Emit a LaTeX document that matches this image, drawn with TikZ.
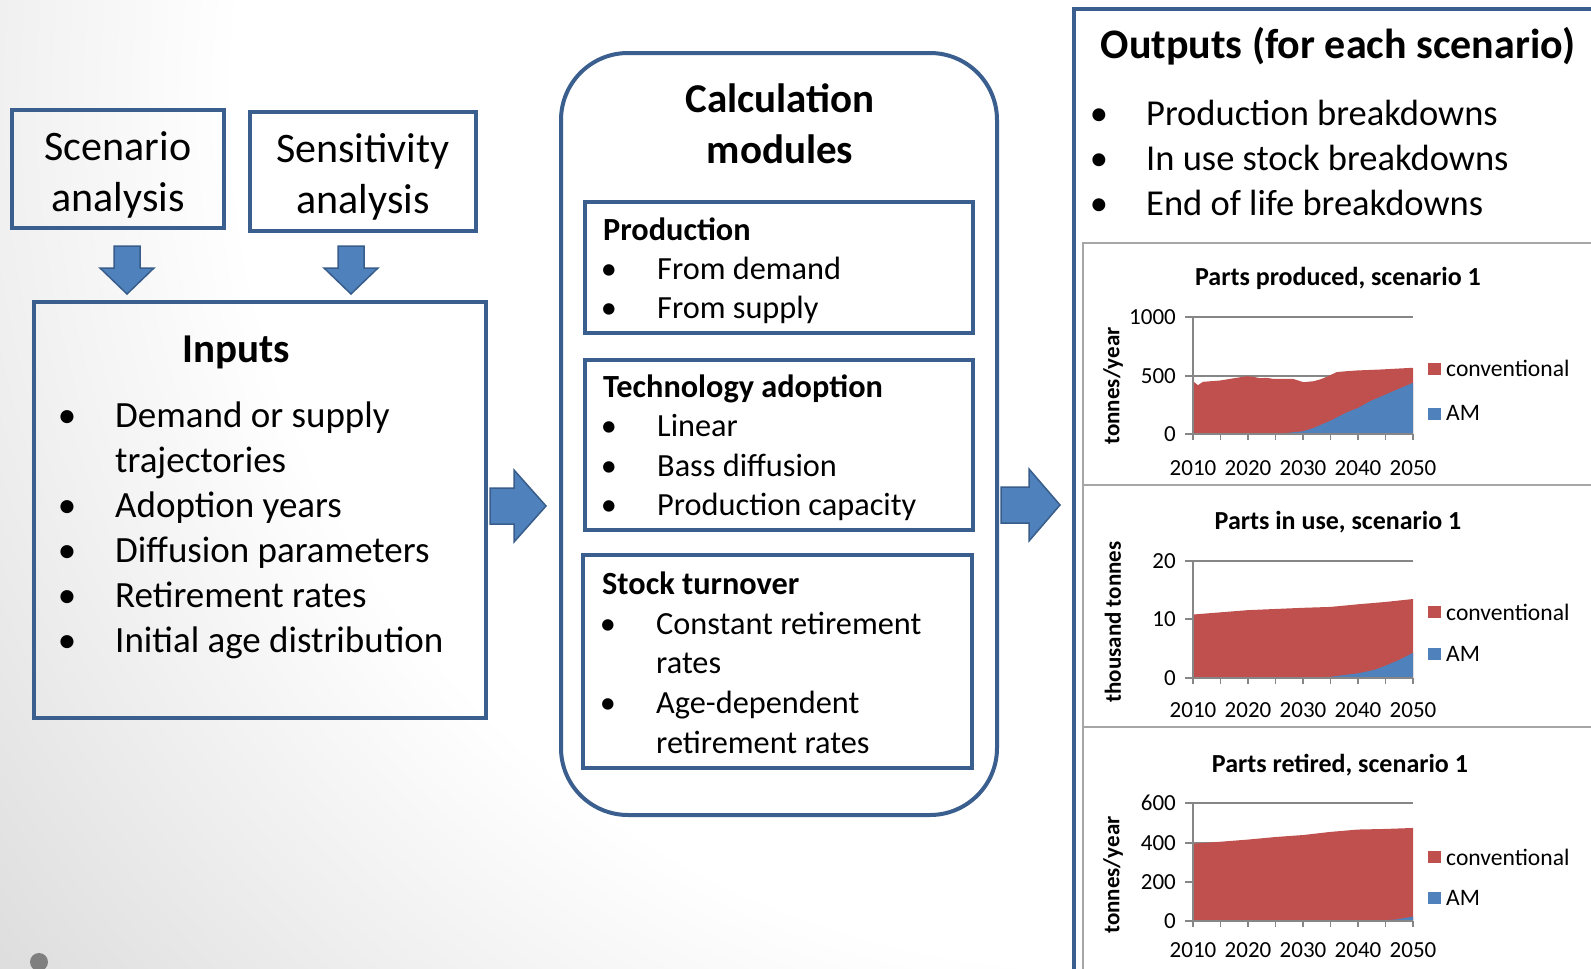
\documentclass[tikz,border=0pt]{standalone}
\usepackage{fontspec}
\setmainfont{Carlito}
\usetikzlibrary{calc}

\definecolor{boxblue}{HTML}{3A5F8F}
\definecolor{arrowfill}{HTML}{4F81BD}
\definecolor{arrowline}{HTML}{385D8A}
\definecolor{conv}{HTML}{C0504D}
\definecolor{amblue}{HTML}{4F81BD}
\definecolor{axisgray}{HTML}{868686}
\definecolor{panelgray}{HTML}{A6A6A6}
\definecolor{dotgray}{HTML}{7F7F7F}
\definecolor{bgmid}{RGB}{224,224,224}
\definecolor{bgdark}{RGB}{209,209,209}

% radial fill of the slide: the 50bp middle square maps onto the circle's box
\pgfdeclareradialshading{slidebg}{\pgfpoint{0bp}{0bp}}{color(0bp)=(white); color(13.5bp)=(white); color(21.25bp)=(bgmid); color(25bp)=(bgdark); color(50bp)=(bgdark)}

\newcommand{\fsz}[2]{\fontsize{#1}{#2}\selectfont}

\tikzset{
  bluebox/.style={draw=boxblue, line width=4pt, inner sep=0pt},
  blockarrow/.style={fill=arrowfill, draw=arrowline, line width=1.5pt, line join=miter},
  txt/.style={inner sep=0pt, anchor=base west},
  bul/.style={inner sep=0pt, anchor=base},
  big/.style={font=\fsz{37}{44}},
  mid/.style={font=\fsz{32.3}{39}},
  outtxt/.style={font=\fsz{36.5}{45}},
  boxtxt/.style={inner sep=0pt, align=center, font=\fsz{42}{51}},
  panel/.style={draw=panelgray, line width=2.5pt, fill=white, inner sep=0pt},
  gridline/.style={draw=axisgray, line width=1.3pt},
  axisline/.style={draw=axisgray, line width=1.5pt},
  charttitle/.style={inner sep=0pt, font=\fsz{26}{30}\bfseries},
  ticklab/.style={inner sep=0pt, font=\fsz{23}{27}},
  legtxt/.style={inner sep=0pt, anchor=west, font=\fsz{23.6}{28}},
  ylab/.style={inner sep=0pt, rotate=90, font=\fsz{23}{27}\bfseries}
}

\begin{document}
\begin{tikzpicture}[x=1pt,y=-1pt]
\useasboundingbox (0,0) rectangle (1591,969);

% slide background
\begin{scope}
  \clip (0,0) rectangle (1591,969);
  \shade[shading=slidebg] (1100,100) circle (1600pt);
\end{scope}
\fill[dotgray] (39,962) circle (9pt);

% ---------- analysis boxes ----------
\node[bluebox, minimum width=212pt, minimum height=118pt] (scen) at (118,169) {};
\node[boxtxt] (scentxt) at (118,175) {Scenario\\analysis};
\node[bluebox, minimum width=226pt, minimum height=119pt] (sens) at (363,171.5) {};
\node[boxtxt] (senstxt) at (363,176.5) {Sensitivity\\analysis};

% ---------- inputs ----------
\node[bluebox, minimum width=452pt, minimum height=416pt] (inputs) at (260,510) {};
\node[inner sep=0pt, anchor=base, font=\fsz{41}{49}\bfseries] (intitle) at (236,362) {Inputs};
\node[bul, big] (ib1) at (67,427) {•};
\node[txt, big] (it1) at (115,427) {Demand or supply};
\node[txt, big] (it1b) at (115,472) {trajectories};
\node[bul, big] (ib2) at (67,517) {•};
\node[txt, big] (it2) at (115,517) {Adoption years};
\node[bul, big] (ib3) at (67,562) {•};
\node[txt, big] (it3) at (115,562) {Diffusion parameters};
\node[bul, big] (ib4) at (67,607) {•};
\node[txt, big] (it4) at (115,607) {Retirement rates};
\node[bul, big] (ib5) at (67,652) {•};
\node[txt, big] (it5) at (115,652) {Initial age distribution};

% ---------- calculation modules ----------
\node[bluebox, rounded corners=67pt, minimum width=436pt, minimum height=762pt] (calc) at (779,434) {};
\node[inner sep=0pt, anchor=base, font=\fsz{41}{49}\bfseries] (calct1) at (780,112) {Calculation};
\node[inner sep=0pt, anchor=base, font=\fsz{41}{49}\bfseries] (calct2) at (780,163) {modules};

\node[bluebox, minimum width=388pt, minimum height=131pt] (prod) at (779,267.5) {};
\node[txt, font=\fsz{32.3}{39}\bfseries] (prodt) at (603,240) {Production};
\node[bul, mid] (pb1) at (609,279) {•};
\node[txt, mid] (pt1) at (657,279) {From demand};
\node[bul, mid] (pb2) at (609,318) {•};
\node[txt, mid] (pt2) at (657,318) {From supply};

\node[bluebox, minimum width=388pt, minimum height=170pt] (tech) at (779,445) {};
\node[txt, font=\fsz{32.3}{39}\bfseries] (techt) at (603,397) {Technology adoption};
\node[bul, mid] (tb1) at (609,436) {•};
\node[txt, mid] (tt1) at (657,436) {Linear};
\node[bul, mid] (tb2) at (609,476) {•};
\node[txt, mid] (tt2) at (657,476) {Bass diffusion};
\node[bul, mid] (tb3) at (609,515) {•};
\node[txt, mid] (tt3) at (657,515) {Production capacity};

\node[bluebox, minimum width=389pt, minimum height=213pt] (stock) at (777.5,661.5) {};
\node[txt, font=\fsz{32.3}{39}\bfseries] (stockt) at (602,594) {Stock turnover};
\node[bul, mid] (sb1) at (608,634) {•};
\node[txt, mid] (st1) at (656,634) {Constant retirement};
\node[txt, mid] (st1b) at (656,673) {rates};
\node[bul, mid] (sb2) at (608,713) {•};
\node[txt, mid] (st2) at (656,713) {Age-dependent};
\node[txt, mid] (st2b) at (656,753) {retirement rates};

% ---------- outputs ----------
\node[bluebox, fill=white, minimum width=626pt, minimum height=991pt] (outputs) at (1387,504.5) {};
\node[inner sep=0pt, anchor=base, font=\fsz{42}{50}\bfseries] (outt) at (1338,58) {Outputs (for each scenario)};
\node[bul, outtxt] (ob1) at (1099,125) {•};
\node[txt, outtxt] (ot1) at (1146,125) {Production breakdowns};
\node[bul, outtxt] (ob2) at (1099,170) {•};
\node[txt, outtxt] (ot2) at (1146,170) {In use stock breakdowns};
\node[bul, outtxt] (ob3) at (1099,215) {•};
\node[txt, outtxt] (ot3) at (1146,215) {End of life breakdowns};

\node[panel, minimum width=617pt, minimum height=242pt] (panel1) at (1391.5,364) {};
\node[panel, minimum width=617pt, minimum height=242pt] (panel2) at (1391.5,606) {};
\node[panel, minimum width=617pt, minimum height=273pt] (panel3) at (1391.5,863.5) {};

% ---------- block arrows ----------
\coordinate (da1) at ($(scen.south)+(9,16)$);
\coordinate (da2) at ($(sens.south)+(-12,13)$);
\coordinate (ra1) at ($(inputs.east)+(2,-4)$);
\coordinate (ra2) at ($(calc.east)+(2,71)$);
\draw[blockarrow] (da1) ++(-13,0) -- ++(26,0) -- ++(0,22) -- ++(14,0) -- ++(-27,26) -- ++(-27,-26) -- ++(14,0) -- cycle;
\draw[blockarrow] (da2) ++(-13,0) -- ++(26,0) -- ++(0,22) -- ++(14,0) -- ++(-27,26) -- ++(-27,-26) -- ++(14,0) -- cycle;
\draw[blockarrow] (ra1) ++(0,-18) -- ++(24,0) -- ++(0,-18) -- ++(32,36) -- ++(-32,36) -- ++(0,-18) -- ++(-24,0) -- cycle;
\draw[blockarrow] (ra2) ++(0,-18) -- ++(28,0) -- ++(0,-18) -- ++(31,36) -- ++(-31,36) -- ++(0,-18) -- ++(-28,0) -- cycle;

% ---------- chart 1: parts produced ----------
\node[charttitle] (c1t) at (1338,278) {Parts produced, scenario 1};
\draw[gridline] (1185,317) -- (1413,317);
\draw[gridline] (1185,376) -- (1413,376);
\begin{scope}[shift={(1193,434)}, x=5.5pt, y=0.117pt]
  \fill[conv] (0,0) -- (0,451) -- (0.9,417) -- (1.8,446) -- (4.9,457) -- (7.9,480) -- (9.7,494) -- (10.9,489) -- (12.2,477) -- (13.4,480) -- (14.6,471) -- (18.2,471) -- (19.5,451) -- (20.1,443) -- (21.9,451) -- (23.1,466) -- (24.6,494) -- (26.1,529) -- (28,537) -- (29.8,543) -- (34,551) -- (40,566) -- (40,0) -- cycle;
  \fill[amblue] (14,0) -- (17,9) -- (20,23) -- (21.9,51) -- (25,114) -- (28,186) -- (30,223) -- (32.2,280) -- (35,337) -- (37.1,380) -- (40,437) -- (40,0) -- cycle;
\end{scope}
\draw[axisline] (1193,317) -- (1193,434);
\draw[axisline] (1185,434) -- (1413,434);
\foreach \k in {0,...,8} \draw[axisline] (1193+27.5*\k,434) -- ++(0,6);
\foreach \v/\y in {0/434,500/376,1000/317} \node[ticklab, anchor=east] (c1y\v) at (1176,\y) {\v};
\foreach \yr [count=\i from 0] in {2010,2020,2030,2040,2050} \node[ticklab] (c1x\yr) at (1193+55*\i,468) {\yr};
\node[ylab] (c1yl) at (1113,386) {tonnes/year};
\fill[conv] (1428,363) rectangle ++(13,12);
\node[legtxt] (c1lc) at (1446,368) {conventional};
\fill[amblue] (1428,408) rectangle ++(13,12);
\node[legtxt] (c1la) at (1446,413) {AM};

% ---------- chart 2: parts in use ----------
\node[charttitle] (c2t) at (1338,522) {Parts in use, scenario 1};
\draw[gridline] (1185,561) -- (1413,561);
\draw[gridline] (1185,619) -- (1413,619);
\begin{scope}[shift={(1193,678)}, x=5.5pt, y=5.85pt]
  \fill[conv] (0,0) -- (0,10.85) -- (10,11.6) -- (20,12.0) -- (25,12.15) -- (30,12.6) -- (35,13.0) -- (40,13.5) -- (40,0) -- cycle;
  \fill[amblue] (19,0) -- (25,0.2) -- (30,0.8) -- (33,1.4) -- (35,2.1) -- (37.5,3.1) -- (40,4.3) -- (40,0) -- cycle;
\end{scope}
\draw[axisline] (1193,561) -- (1193,678);
\draw[axisline] (1185,678) -- (1413,678);
\foreach \k in {0,...,8} \draw[axisline] (1193+27.5*\k,678) -- ++(0,6);
\foreach \v/\y in {0/678,10/619,20/561} \node[ticklab, anchor=east] (c2y\v) at (1176,\y) {\v};
\foreach \yr [count=\i from 0] in {2010,2020,2030,2040,2050} \node[ticklab] (c2x\yr) at (1193+55*\i,710) {\yr};
\node[ylab] (c2yl) at (1113,622) {thousand tonnes};
\fill[conv] (1428,606) rectangle ++(13,12);
\node[legtxt] (c2lc) at (1446,612) {conventional};
\fill[amblue] (1428,648) rectangle ++(13,12);
\node[legtxt] (c2la) at (1446,654) {AM};

% ---------- chart 3: parts retired ----------
\node[charttitle] (c3t) at (1340,765) {Parts retired, scenario 1};
\draw[gridline] (1185,803) -- (1413,803);
\draw[gridline] (1185,843) -- (1413,843);
\draw[gridline] (1185,882) -- (1413,882);
\begin{scope}[shift={(1193,921)}, x=5.5pt, y=0.1967pt]
  \fill[conv] (0,0) -- (0,393) -- (5,403) -- (10,414) -- (15,427) -- (20,437) -- (25,453) -- (30,465) -- (35,468) -- (40,473) -- (40,0) -- cycle;
  \fill[amblue] (33,0) -- (37,8) -- (40,22) -- (40,0) -- cycle;
\end{scope}
\draw[axisline] (1193,803) -- (1193,921);
\draw[axisline] (1185,921) -- (1413,921);
\foreach \k in {0,...,8} \draw[axisline] (1193+27.5*\k,921) -- ++(0,6);
\foreach \v/\y in {0/921,200/882,400/843,600/803} \node[ticklab, anchor=east] (c3y\v) at (1176,\y) {\v};
\foreach \yr [count=\i from 0] in {2010,2020,2030,2040,2050} \node[ticklab] (c3x\yr) at (1193+55*\i,950) {\yr};
\node[ylab] (c3yl) at (1113,875) {tonnes/year};
\fill[conv] (1428,851) rectangle ++(13,12);
\node[legtxt] (c3lc) at (1446,857) {conventional};
\fill[amblue] (1428,892) rectangle ++(13,12);
\node[legtxt] (c3la) at (1446,898) {AM};

\end{tikzpicture}
\end{document}
